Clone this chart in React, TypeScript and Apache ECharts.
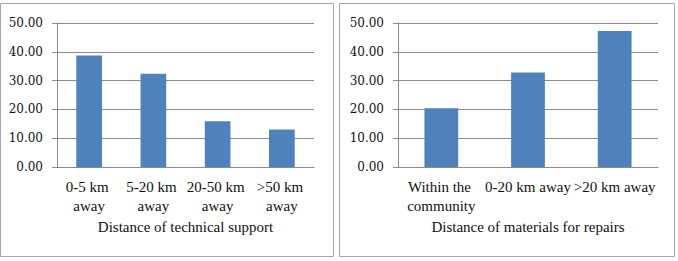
import React, { useEffect, useRef } from "react";
import * as echarts from "echarts";

// Left panel: distance to technical support
const supportCategories = ["0-5 km away", "5-20 km away", "20-50 km away", ">50 km away"];
const supportValues = [38.7, 32.4, 15.9, 13.0];

// Right panel: distance to repair materials
const materialCategories = ["Within the community", "0-20 km away", ">20 km away"];
const materialValues = [20.4, 32.8, 47.2];

const yTicks = { min: 0, max: 50, interval: 10 };

const BAR = "#4F81BD";
const GRID = "#8c8c8c";
const SERIF = "Liberation Serif";
const TICK_FONT = "DejaVu Serif";

function valueAxis(gridIndex: number) {
  return {
    type: "value" as const,
    gridIndex,
    min: yTicks.min,
    max: yTicks.max,
    interval: yTicks.interval,
    axisLine: { show: true, lineStyle: { color: GRID, width: 1 } },
    axisTick: { show: true, length: 5, lineStyle: { color: GRID } },
    splitLine: { show: true, lineStyle: { color: GRID, width: 1 } },
    axisLabel: {
      margin: 14,
      fontFamily: TICK_FONT,
      fontSize: 12,
      color: "#111",
      formatter: (v: number) => v.toFixed(2),
    },
  };
}

function categoryAxis(gridIndex: number, data: string[], name: string, labelWidth: number) {
  return {
    type: "category" as const,
    gridIndex,
    data,
    name,
    nameLocation: "middle" as const,
    nameGap: 52,
    nameTextStyle: { fontFamily: SERIF, fontSize: 15, color: "#111" },
    axisLine: { show: true, lineStyle: { color: GRID, width: 1 } },
    axisTick: { show: false },
    axisLabel: {
      interval: 0,
      margin: 10,
      width: labelWidth,
      overflow: "break" as const,
      lineHeight: 19,
      fontFamily: SERIF,
      fontSize: 15,
      color: "#111",
    },
  };
}

export default function App() {
  const ref = useRef<HTMLDivElement>(null);

  useEffect(() => {
    if (!ref.current) return;
    const chart = echarts.init(ref.current, null, { renderer: "svg" });
    chart.setOption({
      animation: false,
      backgroundColor: "#fff",
      textStyle: { fontFamily: SERIF },
      graphic: [
        {
          type: "rect",
          shape: { x: 0.5, y: 3.5, width: 333, height: 253 },
          style: { fill: "none", stroke: "#a6a6a6", lineWidth: 1 },
        },
        {
          type: "rect",
          shape: { x: 339.5, y: 3.5, width: 335, height: 253 },
          style: { fill: "none", stroke: "#a6a6a6", lineWidth: 1 },
        },
      ],
      grid: [
        { left: 57, right: 364, top: 23, bottom: 94 },
        { left: 398, right: 20, top: 23, bottom: 94 },
      ],
      xAxis: [
        categoryAxis(0, supportCategories, "Distance of technical support", 62),
        categoryAxis(1, materialCategories, "Distance of materials for repairs", 86),
      ],
      yAxis: [valueAxis(0), valueAxis(1)],
      series: [
        {
          type: "bar",
          xAxisIndex: 0,
          yAxisIndex: 0,
          data: supportValues,
          barWidth: "40%",
          itemStyle: { color: BAR },
        },
        {
          type: "bar",
          xAxisIndex: 1,
          yAxisIndex: 1,
          data: materialValues,
          barWidth: "39%",
          itemStyle: { color: BAR },
        },
      ],
    });
    return () => chart.dispose();
  }, []);

  return (
    <div
      ref={ref}
      style={{ position: "fixed", left: 0, top: 0, width: 678, height: 261 }}
    />
  );
}
